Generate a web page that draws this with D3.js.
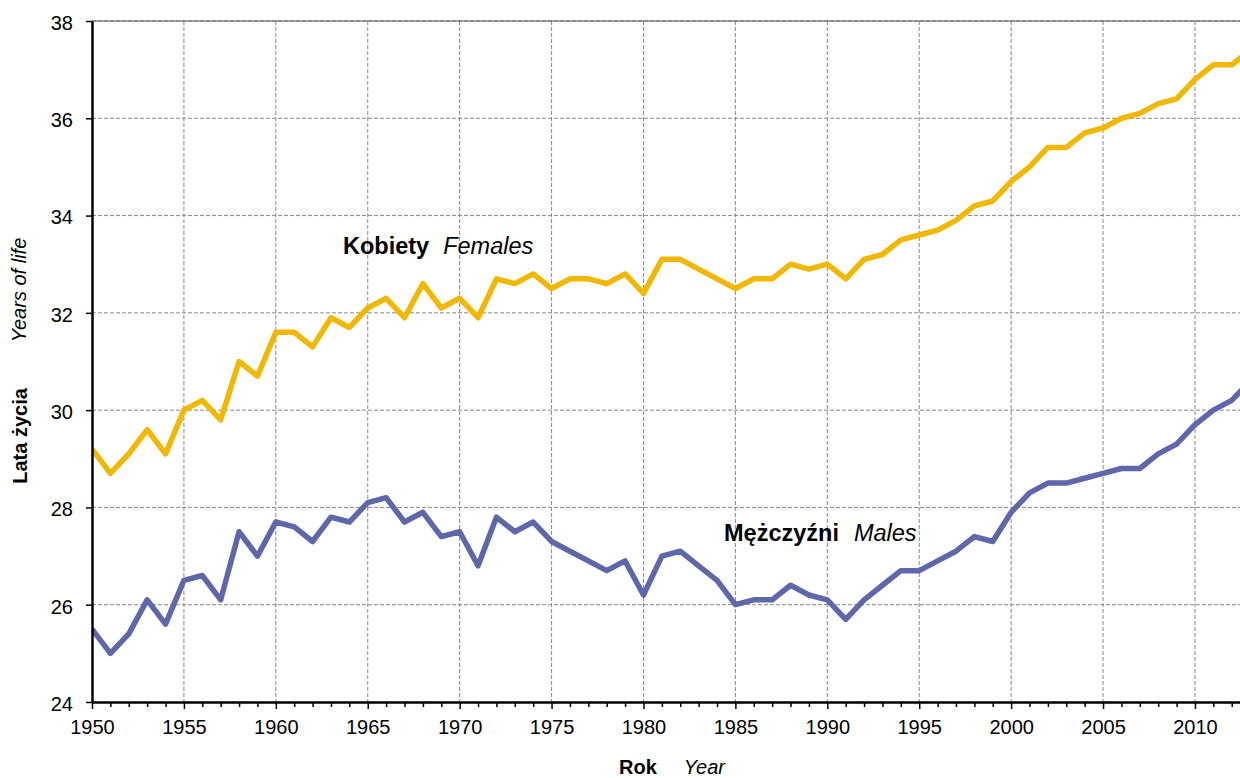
<!DOCTYPE html>
<html>
<head>
<meta charset="utf-8">
<script src="https://cdn.jsdelivr.net/npm/d3@7"></script>
<style>
  body { margin: 0; background: #fff; }
  svg { display: block; font-family: "Liberation Sans", Arial, sans-serif; }
  .grid line { stroke: #8a8a8a; stroke-width: 1; stroke-dasharray: 4,2; }
  .axis text { font-size: 20px; fill: #000; }
</style>
</head>
<body>
<svg id="chart"></svg>
<script>
// data
const years = d3.range(1950, 2014);
const females = [
  29.2, 28.7, 29.1, 29.6, 29.1, 30.0, 30.2, 29.8, 31.0, 30.7,
  31.6, 31.6, 31.3, 31.9, 31.7, 32.1, 32.3, 31.9, 32.6, 32.1,
  32.3, 31.9, 32.7, 32.6, 32.8, 32.5, 32.7, 32.7, 32.6, 32.8,
  32.4, 33.1, 33.1, 32.9, 32.7, 32.5, 32.7, 32.7, 33.0, 32.9,
  33.0, 32.7, 33.1, 33.2, 33.5, 33.6, 33.7, 33.9, 34.2, 34.3,
  34.7, 35.0, 35.4, 35.4, 35.7, 35.8, 36.0, 36.1, 36.3, 36.4,
  36.8, 37.1, 37.1, 37.4
];
const males = [
  25.5, 25.0, 25.4, 26.1, 25.6, 26.5, 26.6, 26.1, 27.5, 27.0,
  27.7, 27.6, 27.3, 27.8, 27.7, 28.1, 28.2, 27.7, 27.9, 27.4,
  27.5, 26.8, 27.8, 27.5, 27.7, 27.3, 27.1, 26.9, 26.7, 26.9,
  26.2, 27.0, 27.1, 26.8, 26.5, 26.0, 26.1, 26.1, 26.4, 26.2,
  26.1, 25.7, 26.1, 26.4, 26.7, 26.7, 26.9, 27.1, 27.4, 27.3,
  27.9, 28.3, 28.5, 28.5, 28.6, 28.7, 28.8, 28.8, 29.1, 29.3,
  29.7, 30.0, 30.2, 30.6
];
const yTicks = [24, 26, 28, 30, 32, 34, 36, 38];
const xMajor = d3.range(1950, 2011, 5);
const xMinor = d3.range(1950, 2013, 1);

const width = 1240, height = 778;
const margin = { top: 21, right: 0, bottom: 76, left: 92 };

const svg = d3.select("#chart").attr("width", width).attr("height", height);

// the picture is cut at the right edge a little after 2012
const x = d3.scaleLinear().domain([1950, 2012.45]).range([margin.left, width - margin.right]);
const y = d3.scaleLinear().domain([24, 38]).range([height - margin.bottom, margin.top]);

svg.append("defs").append("clipPath").attr("id", "plot")
  .append("rect")
  .attr("x", margin.left).attr("y", margin.top)
  .attr("width", width - margin.left - margin.right)
  .attr("height", y(24) - y(38));

// grid
const grid = svg.append("g").attr("class", "grid");
grid.selectAll(".h").data(yTicks.slice(1)).join("line")
  .attr("x1", margin.left).attr("x2", width)
  .attr("y1", d => y(d)).attr("y2", d => y(d));
grid.selectAll(".v").data(xMajor.slice(1)).join("line")
  .attr("x1", d => x(d)).attr("x2", d => x(d))
  .attr("y1", y(38)).attr("y2", y(24));

// top border
svg.append("line")
  .attr("x1", margin.left).attr("x2", width)
  .attr("y1", y(38)).attr("y2", y(38))
  .attr("stroke", "#555").attr("stroke-width", 1.2);

// lines
const line = d3.line().x((d, i) => x(years[i])).y(d => y(d));
const lines = svg.append("g").attr("clip-path", "url(#plot)");
lines.append("path").datum(females)
  .attr("d", line).attr("fill", "none")
  .attr("stroke", "#F2B700").attr("stroke-width", 5.5).attr("stroke-linejoin", "round");
lines.append("path").datum(males)
  .attr("d", line).attr("fill", "none")
  .attr("stroke", "#5F67AB").attr("stroke-width", 5.5).attr("stroke-linejoin", "round");

// axes
const xAxis = svg.append("g").attr("class", "axis")
  .attr("transform", `translate(0,${y(24)})`)
  .call(d3.axisBottom(x).tickValues(xMinor).tickSize(6).tickFormat(d => d % 5 === 0 ? d : "").tickSizeOuter(0).tickPadding(12));
xAxis.select(".domain").attr("stroke", "#000").attr("stroke-width", 2.5);
xAxis.selectAll(".tick line").attr("stroke", "#000").attr("stroke-width", 1.5)
  .attr("y2", d => d % 5 === 0 ? 7 : 5);

const yAxis = svg.append("g").attr("class", "axis")
  .attr("transform", `translate(${margin.left},0)`)
  .call(d3.axisLeft(y).tickValues(yTicks).tickSize(6).tickSizeOuter(0).tickPadding(13));
yAxis.select(".domain").attr("stroke", "#000").attr("stroke-width", 2.5);
yAxis.selectAll(".tick line").attr("stroke", "#000").attr("stroke-width", 1.5);
yAxis.selectAll(".tick text").attr("dy", "0.42em");

// axis titles
const xt = svg.append("text").attr("x", 619).attr("y", 774).attr("font-size", 20);
xt.append("tspan").attr("font-weight", "bold").text("Rok");
xt.append("tspan").attr("dx", 27).attr("font-style", "italic").text("Year");

svg.append("text")
  .attr("transform", "translate(27,436) rotate(-90)")
  .attr("text-anchor", "middle").attr("font-size", 20).attr("font-weight", "bold")
  .text("Lata życia");
svg.append("text")
  .attr("transform", "translate(26,290) rotate(-90)")
  .attr("text-anchor", "middle").attr("font-size", 20).attr("font-style", "italic")
  .text("Years of life");

// series labels
const fl = svg.append("text").attr("x", 343).attr("y", 254).attr("font-size", 23.5);
fl.append("tspan").attr("font-weight", "bold").text("Kobiety");
fl.append("tspan").attr("dx", 14).attr("font-style", "italic").text("Females");

const ml = svg.append("text").attr("x", 724).attr("y", 541).attr("font-size", 23.5);
ml.append("tspan").attr("font-weight", "bold").text("Mężczyźni");
ml.append("tspan").attr("dx", 15).attr("font-style", "italic").text("Males");
</script>
</body>
</html>
